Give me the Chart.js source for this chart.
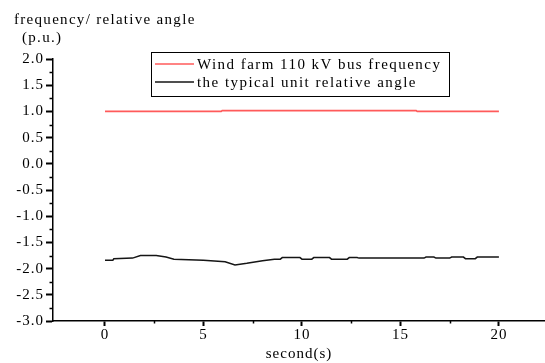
<!DOCTYPE html>
<html><head><meta charset="utf-8">
<script src="https://cdn.jsdelivr.net/npm/chart.js@4"></script>
<style>html,body{margin:0;padding:0;background:#fff}#wrap{width:545px;height:363px;position:relative}</style>
</head><body><div id="wrap"><canvas id="c" width="545" height="363"></canvas></div>
<script>
// ---- data ----
const freqTime  = [0, 5.9, 5.95, 15.8, 15.85, 20];
const freqValue = [1.0, 1.0, 1.015, 1.015, 1.0, 1.0];

const angleTime  = [0.0, 0.4, 0.45, 1.4, 1.8, 2.6, 3.1, 3.5, 5.0, 6.1, 6.6, 7.2, 8.0, 8.6, 8.9, 9.0, 9.9, 10.0, 10.5, 10.6, 11.4, 11.5, 12.3, 12.4, 12.8, 12.9, 16.2, 16.3, 16.7, 16.8, 17.5, 17.6, 18.2, 18.3, 18.8, 18.9, 20.0];
const angleValue = [-1.84, -1.84, -1.81, -1.80, -1.75, -1.75, -1.78, -1.82, -1.84, -1.87, -1.93, -1.90, -1.85, -1.82, -1.82, -1.79, -1.79, -1.82, -1.82, -1.79, -1.79, -1.82, -1.82, -1.79, -1.79, -1.80, -1.80, -1.78, -1.78, -1.80, -1.80, -1.78, -1.78, -1.81, -1.81, -1.78, -1.78];

const xTickValues = [0, 5, 10, 15, 20];
const yTickValues = [-3.0, -2.5, -2.0, -1.5, -1.0, -0.5, 0.0, 0.5, 1.0, 1.5, 2.0];
const seriesLabels = ['Wind farm 110 kV bus frequency', 'the typical unit relative angle'];
const yTitleLines = ['frequency/ relative angle', '(p.u.)'];
const xTitle = 'second(s)';

const FONT = '"Liberation Serif", "Times New Roman", serif';

function toPoints(xs, ys) { return xs.map((x, i) => ({x: x, y: ys[i]})); }

const decor = {
  id: 'decor',
  beforeLayout(chart) { chart.ctx.letterSpacing = '1px'; },
  beforeDraw(chart) { chart.ctx.letterSpacing = '1px'; },
  afterDraw(chart) {
    const ctx = chart.ctx;
    const xs = chart.scales.x, ys = chart.scales.y;
    const area = chart.chartArea;
    ctx.save();
    ctx.strokeStyle = '#000';
    ctx.lineWidth = 1.5;
    // minor ticks
    for (let v = -2.75; v < 2; v += 0.5) {
      const py = Math.round(ys.getPixelForValue(v)) + 0.5;
      ctx.beginPath(); ctx.moveTo(area.left - 3.5, py); ctx.lineTo(area.left, py); ctx.stroke();
    }
    for (let v = 2.5; v < 22; v += 5) {
      const px = Math.round(xs.getPixelForValue(v)) + 0.5;
      ctx.beginPath(); ctx.moveTo(px, area.bottom); ctx.lineTo(px, area.bottom + 2.5); ctx.stroke();
    }
    // top-left axis title
    ctx.fillStyle = '#000';
    ctx.letterSpacing = '1.3px';
    ctx.font = '15px ' + FONT;
    ctx.textAlign = 'left';
    ctx.textBaseline = 'alphabetic';
    ctx.fillText(yTitleLines[0], 14, 24);
    ctx.fillText(yTitleLines[1], 22, 42);
    // legend
    const bx = 151.5, by = 52.5, bw = 298, bh = 44;
    ctx.fillStyle = '#fff';
    ctx.fillRect(bx, by, bw, bh);
    ctx.strokeStyle = '#000';
    ctx.lineWidth = 1;
    ctx.strokeRect(bx, by, bw, bh);
    chart.data.datasets.forEach((ds, i) => {
      const ly = 64 + i * 18;
      ctx.strokeStyle = ds.borderColor;
      ctx.lineWidth = ds.borderWidth;
      ctx.beginPath(); ctx.moveTo(155, ly); ctx.lineTo(194, ly); ctx.stroke();
      ctx.fillStyle = '#000';
      ctx.letterSpacing = '1.45px';
      ctx.font = '15px ' + FONT;
      ctx.fillText(ds.label, 197, ly + 5);
    });
    ctx.restore();
  }
};

new Chart(document.getElementById('c'), {
  type: 'line',
  data: {
    datasets: [
      { label: seriesLabels[0], data: toPoints(freqTime, freqValue), borderColor: '#ff5a5a', borderWidth: 1.6, pointRadius: 0, tension: 0, fill: false },
      { label: seriesLabels[1], data: toPoints(angleTime, angleValue), borderColor: '#151515', borderWidth: 1.5, pointRadius: 0, tension: 0, fill: false }
    ]
  },
  options: {
    responsive: false,
    animation: false,
    devicePixelRatio: 1,
    layout: { padding: { top: 59, left: 0, right: 0, bottom: 0 } },
    plugins: { legend: { display: false }, tooltip: { enabled: false }, title: { display: false } },
    scales: {
      x: {
        type: 'linear', min: -2.64, max: 22.34,
        afterBuildTicks: s => { s.ticks = xTickValues.map(v => ({value: v})); },
        afterFit: s => { s.height = 42; },
        grid: { display: true, drawOnChartArea: false, drawTicks: true, tickLength: 5, tickWidth: 2, tickColor: '#000' },
        border: { display: true, color: '#000', width: 1.5 },
        ticks: { color: '#000', font: { family: FONT, size: 15 }, padding: 0, maxRotation: 0, autoSkip: false },
        title: { display: true, text: xTitle, color: '#000', font: { family: FONT, size: 15 }, padding: { top: 0, bottom: 0 } }
      },
      y: {
        type: 'linear', min: -3, max: 2,
        afterBuildTicks: s => { s.ticks = yTickValues.map(v => ({value: v})); },
        afterFit: s => { s.width = 53; },
        grid: { display: true, drawOnChartArea: false, drawTicks: true, tickLength: 7, tickWidth: 2, tickColor: '#000' },
        border: { display: true, color: '#000', width: 1.5 },
        ticks: { color: '#000', font: { family: FONT, size: 15 }, padding: 2, autoSkip: false, callback: v => Number(v).toFixed(1) }
      }
    }
  },
  plugins: [decor]
});
</script>
</body></html>
